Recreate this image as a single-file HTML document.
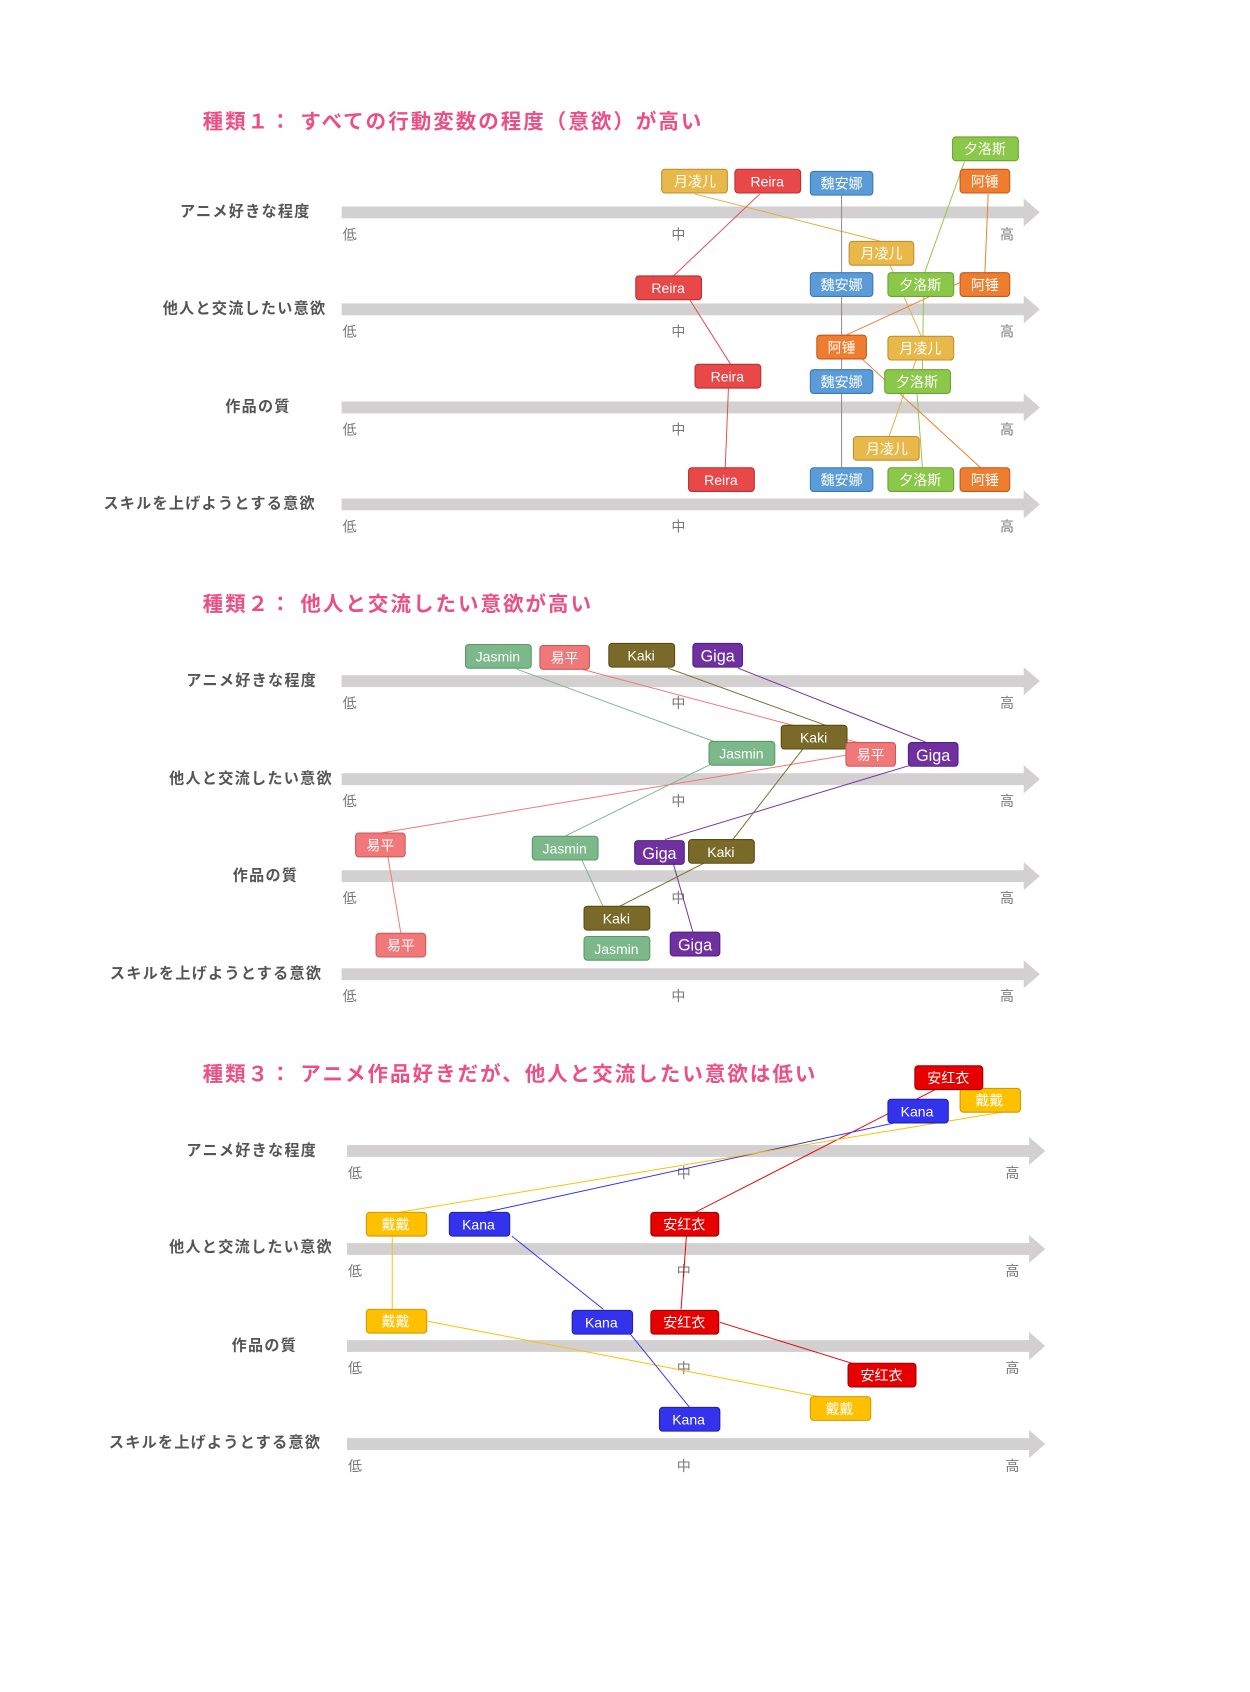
<!DOCTYPE html>
<html><head><meta charset="utf-8"><style>
html,body{margin:0;padding:0;background:#fff;}
svg{display:block;}
text{font-family:"Liberation Sans","Noto Sans CJK JP",sans-serif;}
.t{fill:#ec4f85;font-size:19px;font-weight:bold;letter-spacing:1.9px;}
.l{fill:#555;font-size:14px;font-weight:bold;letter-spacing:1.2px;}
.k{fill:#777;font-size:13px;}
.n{fill:#fff;font-size:13px;text-anchor:middle;}
.ax{fill:#d2d0d0;}
line{stroke-width:0.9;}
</style></head><body>
<svg width="1250" height="1692" viewBox="0 0 1160 1570" xmlns="http://www.w3.org/2000/svg">
<defs>
<g id="axA"><rect class="ax" x="317" y="-5.5" width="634" height="11"/><polygon class="ax" points="950,-13 965,0 950,13"/>
<text class="k" x="318" y="25">低</text><text class="k" x="623" y="25">中</text><text class="k" x="928" y="25">高</text></g>
</defs>
<!-- Section 1 -->
<text class="t" x="188" y="119">種類１： すべての行動変数の程度（意欲）が高い</text>
<use href="#axA" y="197"/><use href="#axA" y="287"/><use href="#axA" y="378"/><use href="#axA" y="468"/>
<text class="l" x="167" y="201">アニメ好きな程度</text>
<text class="l" x="151" y="291">他人と交流したい意欲</text>
<text class="l" x="209" y="382">作品の質</text>
<text class="l" x="96" y="472">スキルを上げようとする意欲</text>
<g>
<line x1="645" y1="180" x2="818" y2="224" stroke="#e0b040"/>
<line x1="705" y1="180" x2="625" y2="256" stroke="#e84848"/>
<line x1="781" y1="181" x2="781" y2="434" stroke="#888"/>
<line x1="895" y1="150" x2="858" y2="253" stroke="#8bc84a"/>
<line x1="917" y1="180" x2="914" y2="253" stroke="#ee7d30"/>
<line x1="640" y1="278" x2="678" y2="338" stroke="#e84848"/>
<line x1="826" y1="246" x2="855" y2="312" stroke="#e0b040"/>
<line x1="857" y1="275" x2="856" y2="343" stroke="#8bc84a"/>
<line x1="900" y1="258" x2="785" y2="311" stroke="#ee7d30"/>
<line x1="676" y1="360" x2="673" y2="434" stroke="#e84848"/>
<line x1="850" y1="334" x2="825" y2="405" stroke="#e0b040"/>
<line x1="851" y1="365" x2="856" y2="434" stroke="#8bc84a"/>
<line x1="800" y1="333" x2="910" y2="434" stroke="#ee7d30"/>
</g>
<g>
<rect x="884" y="127" width="61" height="22" rx="3" fill="#8bc84a" stroke="#6aa430"/><text class="n" x="914" y="143">夕洛斯</text>
<rect x="614" y="157" width="61" height="22" rx="3" fill="#e8b84a" stroke="#c09030"/><text class="n" x="645" y="173">月凌儿</text>
<rect x="682" y="157" width="61" height="22" rx="3" fill="#e84848" stroke="#b83030"/><text class="n" x="712" y="173">Reira</text>
<rect x="752" y="159" width="58" height="22" rx="3" fill="#5a9bd8" stroke="#3a7ab8"/><text class="n" x="781" y="175">魏安娜</text>
<rect x="891" y="157" width="46" height="22" rx="3" fill="#ee7d30" stroke="#c05a18"/><text class="n" x="914" y="173">阿锤</text>

<rect x="788" y="224" width="60" height="22" rx="3" fill="#e8b84a" stroke="#c09030"/><text class="n" x="818" y="240">月凌儿</text>
<rect x="590" y="256" width="61" height="22" rx="3" fill="#e84848" stroke="#b83030"/><text class="n" x="620" y="272">Reira</text>
<rect x="752" y="253" width="58" height="22" rx="3" fill="#5a9bd8" stroke="#3a7ab8"/><text class="n" x="781" y="269">魏安娜</text>
<rect x="824" y="253" width="61" height="22" rx="3" fill="#8bc84a" stroke="#6aa430"/><text class="n" x="854" y="269">夕洛斯</text>
<rect x="891" y="253" width="46" height="22" rx="3" fill="#ee7d30" stroke="#c05a18"/><text class="n" x="914" y="269">阿锤</text>

<rect x="758" y="311" width="46" height="22" rx="3" fill="#ee7d30" stroke="#c05a18"/><text class="n" x="781" y="327">阿锤</text>
<rect x="824" y="312" width="61" height="22" rx="3" fill="#e8b84a" stroke="#c09030"/><text class="n" x="854" y="328">月凌儿</text>
<rect x="645" y="338" width="61" height="22" rx="3" fill="#e84848" stroke="#b83030"/><text class="n" x="675" y="354">Reira</text>
<rect x="752" y="343" width="58" height="22" rx="3" fill="#5a9bd8" stroke="#3a7ab8"/><text class="n" x="781" y="359">魏安娜</text>
<rect x="821" y="343" width="61" height="22" rx="3" fill="#8bc84a" stroke="#6aa430"/><text class="n" x="851" y="359">夕洛斯</text>

<rect x="792" y="405" width="61" height="22" rx="3" fill="#e8b84a" stroke="#c09030"/><text class="n" x="823" y="421">月凌儿</text>
<rect x="639" y="434" width="61" height="22" rx="3" fill="#e84848" stroke="#b83030"/><text class="n" x="669" y="450">Reira</text>
<rect x="752" y="434" width="58" height="22" rx="3" fill="#5a9bd8" stroke="#3a7ab8"/><text class="n" x="781" y="450">魏安娜</text>
<rect x="824" y="434" width="61" height="22" rx="3" fill="#8bc84a" stroke="#6aa430"/><text class="n" x="854" y="450">夕洛斯</text>
<rect x="891" y="434" width="46" height="22" rx="3" fill="#ee7d30" stroke="#c05a18"/><text class="n" x="914" y="450">阿锤</text>
</g>

<!-- Section 2 -->
<text class="t" x="188" y="567">種類２： 他人と交流したい意欲が高い</text>
<use href="#axA" y="632"/><use href="#axA" y="723"/><use href="#axA" y="813"/><use href="#axA" y="904"/>
<text class="l" x="173" y="636">アニメ好きな程度</text>
<text class="l" x="157" y="727">他人と交流したい意欲</text>
<text class="l" x="216" y="817">作品の質</text>
<text class="l" x="102" y="908">スキルを上げようとする意欲</text>
<g>
<line x1="480" y1="621" x2="668" y2="690" stroke="#7cb88a"/>
<line x1="540" y1="621" x2="800" y2="690" stroke="#f07878"/>
<line x1="620" y1="620" x2="780" y2="678" stroke="#7a6a2a"/>
<line x1="685" y1="620" x2="860" y2="689" stroke="#7030a0"/>
<line x1="790" y1="700" x2="353" y2="773" stroke="#f07878"/>
<line x1="660" y1="709" x2="524" y2="776" stroke="#7cb88a"/>
<line x1="845" y1="710" x2="617" y2="779" stroke="#7030a0"/>
<line x1="745" y1="695" x2="680" y2="779" stroke="#7a6a2a"/>
<line x1="360" y1="795" x2="372" y2="866" stroke="#f07878"/>
<line x1="540" y1="798" x2="560" y2="842" stroke="#7cb88a"/>
<line x1="625" y1="802" x2="643" y2="865" stroke="#7030a0"/>
<line x1="655" y1="800" x2="575" y2="841" stroke="#7a6a2a"/>
</g>
<g>
<rect x="432" y="598" width="61" height="22" rx="3" fill="#7cb88a" stroke="#5a9868"/><text class="n" x="462" y="614">Jasmin</text>
<rect x="501" y="599" width="46" height="22" rx="3" fill="#f07878" stroke="#d05858"/><text class="n" x="524" y="615">易平</text>
<rect x="565" y="597" width="61" height="22" rx="3" fill="#7a6a2a" stroke="#5a4a10"/><text class="n" x="595" y="613">Kaki</text>
<rect x="643" y="597" width="46" height="22" rx="3" fill="#7030a0" stroke="#502080"/><text class="n" x="666" y="614" style="font-size:15px">Giga</text>

<rect x="725" y="673" width="61" height="22" rx="3" fill="#7a6a2a" stroke="#5a4a10"/><text class="n" x="755" y="689">Kaki</text>
<rect x="658" y="688" width="61" height="22" rx="3" fill="#7cb88a" stroke="#5a9868"/><text class="n" x="688" y="704">Jasmin</text>
<rect x="785" y="689" width="46" height="22" rx="3" fill="#f07878" stroke="#d05858"/><text class="n" x="808" y="705">易平</text>
<rect x="843" y="689" width="46" height="22" rx="3" fill="#7030a0" stroke="#502080"/><text class="n" x="866" y="706" style="font-size:15px">Giga</text>

<rect x="330" y="773" width="46" height="22" rx="3" fill="#f07878" stroke="#d05858"/><text class="n" x="353" y="789">易平</text>
<rect x="494" y="776" width="61" height="22" rx="3" fill="#7cb88a" stroke="#5a9868"/><text class="n" x="524" y="792">Jasmin</text>
<rect x="589" y="780" width="46" height="22" rx="3" fill="#7030a0" stroke="#502080"/><text class="n" x="612" y="797" style="font-size:15px">Giga</text>
<rect x="639" y="779" width="61" height="22" rx="3" fill="#7a6a2a" stroke="#5a4a10"/><text class="n" x="669" y="795">Kaki</text>

<rect x="542" y="841" width="61" height="22" rx="3" fill="#7a6a2a" stroke="#5a4a10"/><text class="n" x="572" y="857">Kaki</text>
<rect x="349" y="866" width="46" height="22" rx="3" fill="#f07878" stroke="#d05858"/><text class="n" x="372" y="882">易平</text>
<rect x="542" y="869" width="61" height="22" rx="3" fill="#7cb88a" stroke="#5a9868"/><text class="n" x="572" y="885">Jasmin</text>
<rect x="622" y="865" width="46" height="22" rx="3" fill="#7030a0" stroke="#502080"/><text class="n" x="645" y="882" style="font-size:15px">Giga</text>
</g>

<!-- Section 3 -->
<text class="t" x="188" y="1003">種類３： アニメ作品好きだが、他人と交流したい意欲は低い</text>
<use href="#axA" x="5" y="1068"/><use href="#axA" x="5" y="1159"/><use href="#axA" x="5" y="1249"/><use href="#axA" x="5" y="1340"/>
<text class="l" x="173" y="1072">アニメ好きな程度</text>
<text class="l" x="157" y="1162">他人と交流したい意欲</text>
<text class="l" x="215" y="1253">作品の質</text>
<text class="l" x="101" y="1343">スキルを上げようとする意欲</text>
<g>
<line x1="870" y1="1010" x2="645" y2="1125" stroke="#e60000"/>
<line x1="830" y1="1042" x2="450" y2="1125" stroke="#3333ee"/>
<line x1="930" y1="1032" x2="370" y2="1125" stroke="#ffc000"/>
<line x1="364" y1="1147" x2="364" y2="1215" stroke="#ffc000"/>
<line x1="475" y1="1147" x2="560" y2="1215" stroke="#3333ee"/>
<line x1="637" y1="1147" x2="632" y2="1215" stroke="#e60000"/>
<line x1="668" y1="1227" x2="800" y2="1268" stroke="#e60000"/>
<line x1="397" y1="1226" x2="760" y2="1296" stroke="#ffc000"/>
<line x1="585" y1="1238" x2="640" y2="1306" stroke="#3333ee"/>
</g>
<g>
<rect x="891" y="1010" width="56" height="22" rx="3" fill="#ffc000" stroke="#d09a00"/><text class="n" x="918" y="1026">戴戴</text>
<rect x="849" y="989" width="63" height="22" rx="3" fill="#e60000" stroke="#a00000"/><text class="n" x="880" y="1005">安红衣</text>
<rect x="824" y="1020" width="56" height="22" rx="3" fill="#3333ee" stroke="#2020b0"/><text class="n" x="851" y="1036">Kana</text>

<rect x="340" y="1125" width="56" height="22" rx="3" fill="#ffc000" stroke="#d09a00"/><text class="n" x="367" y="1141">戴戴</text>
<rect x="417" y="1125" width="56" height="22" rx="3" fill="#3333ee" stroke="#2020b0"/><text class="n" x="444" y="1141">Kana</text>
<rect x="604" y="1125" width="63" height="22" rx="3" fill="#e60000" stroke="#a00000"/><text class="n" x="635" y="1141">安红衣</text>

<rect x="340" y="1215" width="56" height="22" rx="3" fill="#ffc000" stroke="#d09a00"/><text class="n" x="367" y="1231">戴戴</text>
<rect x="531" y="1216" width="56" height="22" rx="3" fill="#3333ee" stroke="#2020b0"/><text class="n" x="558" y="1232">Kana</text>
<rect x="604" y="1216" width="63" height="22" rx="3" fill="#e60000" stroke="#a00000"/><text class="n" x="635" y="1232">安红衣</text>

<rect x="787" y="1265" width="63" height="22" rx="3" fill="#e60000" stroke="#a00000"/><text class="n" x="818" y="1281">安红衣</text>
<rect x="752" y="1296" width="56" height="22" rx="3" fill="#ffc000" stroke="#d09a00"/><text class="n" x="779" y="1312">戴戴</text>
<rect x="612" y="1306" width="56" height="22" rx="3" fill="#3333ee" stroke="#2020b0"/><text class="n" x="639" y="1322">Kana</text>
</g>
</svg>
</body></html>
